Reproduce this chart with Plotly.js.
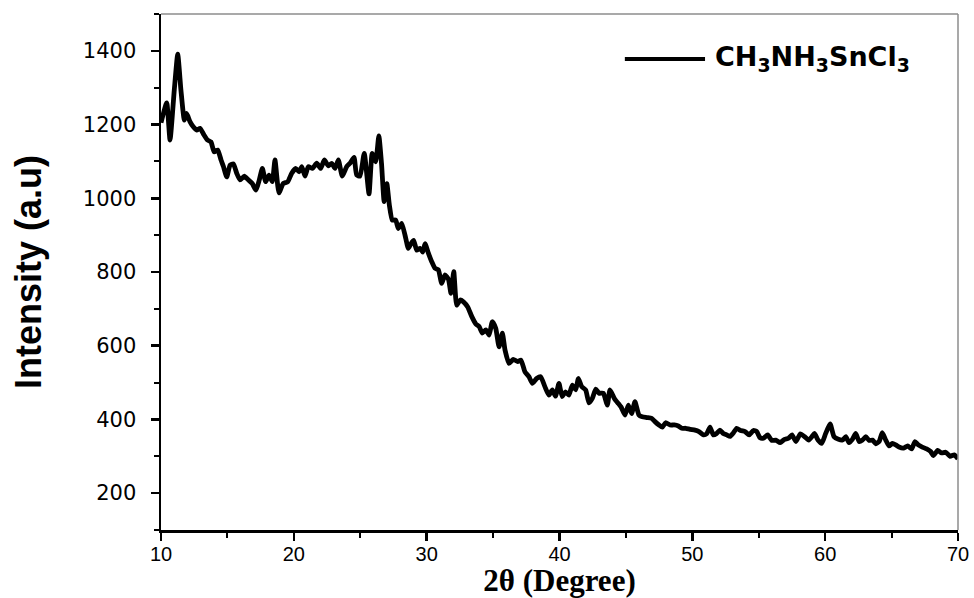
<!DOCTYPE html>
<html>
<head>
<meta charset="utf-8">
<script src="https://cdn.plot.ly/plotly-3.0.1.min.js"></script>
<style>html,body{margin:0;padding:0;background:#fff}#chart{width:974px;height:598px}</style>
</head>
<body>
<div id="chart"></div>
<script>
var seriesName = 'CH<sub>3</sub>NH<sub>3</sub>SnCl<sub>3</sub>';
var twoTheta = [10.0,10.05,10.43,10.68,11.0,11.26,11.5,11.76,11.93,12.18,12.43,12.69,12.94,13.2,13.5,13.76,14.0,14.27,14.52,14.7,14.95,15.2,15.45,15.7,15.95,16.27,16.57,16.87,17.15,17.4,17.63,17.88,18.13,18.38,18.58,18.88,19.2,19.54,19.84,20.14,20.4,20.6,20.84,21.09,21.4,21.72,22.02,22.3,22.6,22.85,23.1,23.35,23.65,23.98,24.23,24.53,24.73,24.98,25.3,25.66,25.9,26.16,26.4,26.6,26.8,27.0,27.19,27.41,27.66,27.87,28.12,28.37,28.62,28.82,29.02,29.25,29.5,29.7,29.88,30.13,30.38,30.63,30.88,31.13,31.38,31.64,31.83,32.04,32.26,32.52,32.77,33.09,33.4,33.7,33.95,34.19,34.45,34.7,34.94,35.2,35.45,35.7,35.9,36.2,36.52,36.85,37.1,37.4,37.7,37.95,38.28,38.58,38.9,39.2,39.46,39.7,39.96,40.2,40.45,40.7,40.97,41.22,41.42,41.67,41.97,42.22,42.47,42.73,42.98,43.3,43.6,43.8,44.13,44.43,44.63,44.93,45.18,45.43,45.68,45.98,46.23,46.56,46.94,47.19,47.49,47.74,47.99,48.32,48.64,48.95,49.2,49.5,49.83,50.2,50.5,50.83,51.08,51.33,51.58,51.83,52.08,52.33,52.59,52.84,53.1,53.34,53.64,53.97,54.27,54.6,54.85,55.1,55.35,55.67,55.98,56.28,56.61,56.94,57.24,57.5,57.8,58.13,58.46,58.76,59.0,59.2,59.46,59.74,60.04,60.37,60.67,61.0,61.3,61.55,61.8,62.05,62.3,62.56,62.81,63.06,63.31,63.56,63.81,64.06,64.3,64.56,64.81,65.06,65.31,65.56,65.89,66.21,66.51,66.76,67.01,67.31,67.64,67.94,68.14,68.47,68.77,69.07,69.4,69.72,70.0];
var intensity = [1205,1212,1259,1158,1294,1391,1294,1212,1230,1208,1194,1185,1190,1174,1158,1153,1126,1131,1104,1086,1058,1090,1093,1068,1050,1060,1050,1040,1022,1050,1081,1045,1063,1045,1104,1015,1040,1045,1068,1081,1072,1086,1060,1086,1081,1095,1081,1104,1088,1095,1081,1104,1060,1086,1095,1111,1063,1060,1122,1012,1122,1099,1169,1095,991,1040,982,941,941,918,932,900,864,877,886,859,864,854,877,851,828,810,806,769,792,780,742,801,710,724,719,705,679,659,652,634,643,629,665,647,597,634,588,552,563,557,561,529,516,498,511,516,489,466,480,463,498,462,475,466,493,480,511,489,480,445,457,482,471,471,439,480,457,443,434,412,439,416,448,412,407,405,403,394,385,379,391,385,385,382,376,376,373,371,367,358,361,379,358,362,371,362,358,354,364,376,370,367,358,370,367,350,349,358,343,344,337,346,349,358,340,361,353,344,353,362,344,335,362,388,353,346,344,353,337,346,362,340,344,353,343,344,334,340,364,344,328,335,331,325,322,328,320,340,331,325,320,313,302,316,309,311,300,304,293];
var xTicks = [10,20,30,40,50,60,70];
var yTicks = [200,400,600,800,1000,1200,1400];

var trace = {
  x: twoTheta, y: intensity, type: 'scatter', mode: 'lines', name: seriesName,
  line: {color: '#000000', width: 4.8, shape: 'spline', smoothing: 0.5},
  showlegend: false, hoverinfo: 'x+y'
};

var layout = {
  width: 974, height: 598,
  margin: {l: 161, r: 16, t: 14, b: 68},
  paper_bgcolor: '#ffffff', plot_bgcolor: '#ffffff',
  showlegend: false,
  xaxis: {
    range: [10, 70], tickvals: xTicks, ticktext: xTicks.map(String),
    ticks: 'outside', ticklen: 8, tickwidth: 2.5, tickcolor: '#000',
    ticklabelstandoff: -4,
    minor: {dtick: 5, tick0: 5, ticks: 'outside', ticklen: 5, tickwidth: 2, tickcolor: '#000'},
    showline: true, linecolor: '#000', linewidth: 2.5, showgrid: false, zeroline: false,
    tickfont: {family: '"Liberation Sans Narrow", "Arial Narrow", "Liberation Sans", Arial, sans-serif', size: 20, color: '#000'},
    title: {text: '2θ (Degree)', standoff: 8,
      font: {family: '"Liberation Serif", "Times New Roman", serif', size: 31, color: '#000', weight: 'bold'}}
  },
  yaxis: {
    range: [100, 1500], tickvals: yTicks, ticktext: yTicks.map(String),
    ticks: 'outside', ticklen: 8, tickwidth: 2.5, tickcolor: '#000',
    ticklabelstandoff: 10,
    minor: {dtick: 200, tick0: 100, ticks: 'outside', ticklen: 5, tickwidth: 2, tickcolor: '#000'},
    showline: true, linecolor: '#000', linewidth: 2.5, showgrid: false, zeroline: false,
    tickfont: {family: '"DejaVu Sans", "Liberation Sans", Arial, sans-serif', size: 21, color: '#000'},
    title: {text: 'Intensity (a.u)', standoff: 30,
      font: {family: '"Liberation Sans", Arial, sans-serif', size: 36, color: '#000', weight: 'bold'}}
  },
  shapes: [
    {type: 'line', xref: 'paper', yref: 'paper', x0: 0, x1: 1, y0: 1, y1: 1, line: {color: '#8c8c8c', width: 1.5}},
    {type: 'line', xref: 'paper', yref: 'paper', x0: 1, x1: 1, y0: 0, y1: 1, line: {color: '#8c8c8c', width: 1.5}},
    {type: 'line', xref: 'paper', yref: 'paper', x0: 0.582, x1: 0.6826, y0: 0.9128, y1: 0.9128, line: {color: '#000', width: 4}}
  ],
  annotations: [
    {xref: 'paper', yref: 'paper', x: 0.6926, y: 0.9128, xanchor: 'left', yanchor: 'middle',
     text: seriesName, showarrow: false,
     font: {family: '"DejaVu Sans", "Liberation Sans", Arial, sans-serif', size: 27, color: '#000', weight: 'bold'}}
  ]
};

Plotly.newPlot('chart', [trace], layout, {displayModeBar: false, staticPlot: true});
</script>
</body>
</html>
